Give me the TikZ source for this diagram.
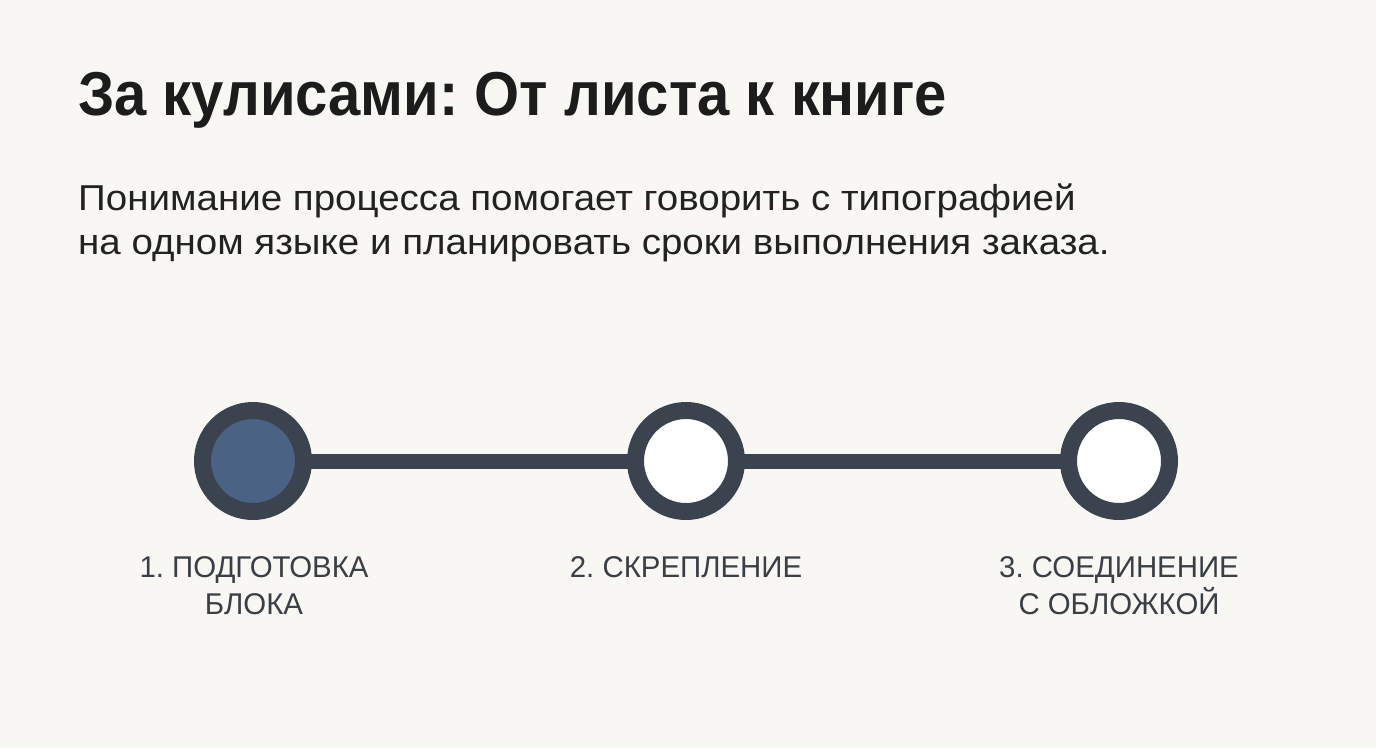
\documentclass[tikz,border=0pt]{standalone}
\usepackage{fontspec}
\setmainfont{Liberation Sans}
\newfontfamily\titlefont[FakeStretch=0.935]{Liberation Sans}
\newfontfamily\subfont[FakeStretch=1.07]{Liberation Sans}
\newfontfamily\labelfont[FakeStretch=0.98]{Liberation Sans}
\definecolor{bg}{HTML}{F8F7F4}
\definecolor{ring}{HTML}{3B444E}
\definecolor{fillblue}{HTML}{4A6283}
\definecolor{titlec}{HTML}{1C1C1C}
\definecolor{textc}{HTML}{222222}
\definecolor{labelc}{HTML}{3A3F45}
\frenchspacing
\begin{document}
\begin{tikzpicture}[x=1pt,y=-1pt,
  stepcircle/.style={circle, draw=ring, line width=17pt, minimum size=101pt, inner sep=0pt, fill=white},
  donecircle/.style={stepcircle, fill=fillblue},
  connector/.style={draw=ring, line width=15pt},
  steplabel/.style={text=labelc, font=\labelfont\fontsize{30}{37}\selectfont, align=center, anchor=north}
]
\fill[bg] (0,0) rectangle (1376,748);
\useasboundingbox (0,0) rectangle (1376,748);
\node[anchor=base west, text=titlec, font=\titlefont\fontsize{62}{70}\selectfont\bfseries, inner sep=0pt] (title) at (78,115) {За кулисами: От листа к книге};
\node[anchor=base west, text=textc, font=\subfont\fontsize{36}{44}\selectfont, align=left, inner sep=0pt] (sub) at (78,254) {Понимание процесса помогает говорить с типографией\\на одном языке и планировать сроки выполнения заказа.};
\coordinate (c1) at (253,461);
\coordinate (c2) at (686,461);
\coordinate (c3) at (1119,461);
\draw[connector] (c1) -- (c2);
\draw[connector] (c2) -- (c3);
\node[donecircle] (s1) at (c1) {};
\node[stepcircle] (s2) at (c2) {};
\node[stepcircle] (s3) at (c3) {};
\node[steplabel] (l1) at (254,553) {1. ПОДГОТОВКА\\БЛОКА};
\node[steplabel] (l2) at (686,553) {2. СКРЕПЛЕНИЕ};
\node[steplabel] (l3) at (1119,553) {3. СОЕДИНЕНИЕ\\С ОБЛОЖКОЙ};
\end{tikzpicture}
\end{document}
